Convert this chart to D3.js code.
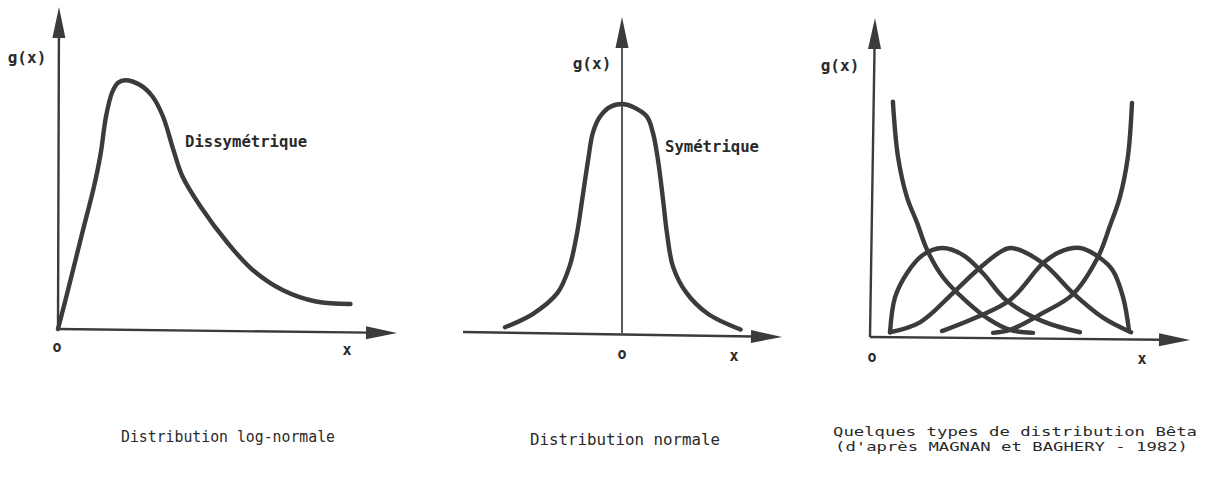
<!DOCTYPE html>
<html>
<head>
<meta charset="utf-8">
<script src="https://cdn.jsdelivr.net/npm/d3@7"></script>
<style>
  html, body { margin: 0; padding: 0; background: #fff; }
  svg { display: block; }
  text { font-family: "DejaVu Sans Mono", "Liberation Mono", monospace; fill: #2a2a2a; }
</style>
</head>
<body>
<svg id="fig" width="1205" height="481"></svg>
<script>
// ---- Data ---------------------------------------------------------------

// Log-normal (skewed) density, x in [0, 10], g in [0, 10]
const logNormalX = [0, 0.3, 0.8, 1.2, 1.42, 1.6, 1.8, 2.0, 2.25, 2.75, 3.15, 3.5, 3.85, 4.15, 4.75, 5.65, 6.5, 7.5, 8.6, 9.75];
const logNormalG = [0, 1.4, 3.8, 5.7, 7.0, 8.5, 9.45, 9.85, 9.95, 9.75, 9.3, 8.5, 7.15, 6.1, 4.9, 3.45, 2.35, 1.55, 1.1, 1.0];

// Normal (symmetric) density, x in [-4, 4], g in [0, 10]
const normalX = [-3.9, -2.95, -2.15, -1.75, -1.5, -1.33, -1.13, -0.97, -0.73, -0.4, 0, 0.37, 0.83, 1.03, 1.2, 1.37, 1.5, 1.7, 2.15, 2.85, 3.95];
const normalG = [0.25, 0.85, 1.75, 2.9, 4.35, 5.8, 7.55, 8.75, 9.45, 9.87, 10, 9.87, 9.45, 8.75, 7.55, 5.8, 4.35, 2.9, 1.75, 0.85, 0.15];

// Beta densities on [0, 1], g in [0, 4]
const betaLeftX  = [0, 0.021, 0.07, 0.136, 0.215, 0.302, 0.384, 0.48, 0.63, 0.785];
const betaLeftG  = [0.03, 0.63, 1.04, 1.35, 1.47, 1.35, 1.04, 0.58, 0.22, 0.03];
const betaMidX   = [0, 0.124, 0.26, 0.36, 0.455, 0.5, 0.632, 0.756, 0.88, 0.996];
const betaMidG   = [0.03, 0.2, 0.7, 1.09, 1.4, 1.47, 1.21, 0.7, 0.28, 0.03];
const betaRightX = [0.215, 0.36, 0.496, 0.632, 0.70, 0.785, 0.868, 0.92, 0.963, 0.988];
const betaRightG = [0.05, 0.29, 0.58, 1.21, 1.40, 1.47, 1.30, 1.09, 0.63, 0.05];
const betaDecX   = [0.012, 0.033, 0.07, 0.112, 0.153, 0.219, 0.318, 0.413, 0.496, 0.591];
const betaDecG   = [3.97, 3.03, 2.34, 1.9, 1.44, 0.97, 0.55, 0.24, 0.07, 0.02];
const betaIncX   = [0.426, 0.496, 0.632, 0.756, 0.86, 0.909, 0.95, 0.983, 1.0];
const betaIncG   = [0.02, 0.07, 0.36, 0.68, 1.32, 1.85, 2.34, 3.03, 3.95];

// Text
const axisNames   = ["g(x)", "o", "x"];
const curveNotes  = ["Dissymétrique", "Symétrique"];
const captions    = ["Distribution log-normale", "Distribution normale",
                     "Quelques types de distribution Bêta", "(d'après MAGNAN et BAGHERY - 1982)"];

// ---- Layout -------------------------------------------------------------

const ink = "#3b3b3b";
const svg = d3.select("#fig");

const panels = [
  {
    xDomain: [0, 10], xRange: [58, 358],
    yDomain: [0, 10], yRange: [329, 79],
    yAxis: [[58, 329], [59, 7]], xAxis: [[58, 329], [397, 333]], yAxisWidth: 2.4,
    series: [[logNormalX, logNormalG]],
    gLabel: [27, 63], oLabel: [57, 352], xLabel: [347, 355],
    note: { text: curveNotes[0], x: 185, y: 147 }
  },
  {
    xDomain: [-4, 4], xRange: [502, 742],
    yDomain: [0, 10], yRange: [333, 104],
    yAxis: [[622, 333], [622, 17]], xAxis: [[463, 332], [782, 337]], yAxisWidth: 1.7,
    series: [[normalX, normalG]],
    gLabel: [592, 69], oLabel: [622, 359], xLabel: [734, 361],
    note: { text: curveNotes[1], x: 665, y: 152 }
  },
  {
    xDomain: [0, 1], xRange: [890, 1132],
    yDomain: [0, 4], yRange: [334, 100],
    yAxis: [[870, 337], [875, 18]], xAxis: [[870, 337], [1190, 340]], yAxisWidth: 2.4,
    series: [[betaLeftX, betaLeftG], [betaMidX, betaMidG], [betaRightX, betaRightG],
             [betaDecX, betaDecG], [betaIncX, betaIncG]],
    gLabel: [840, 71], oLabel: [872, 362], xLabel: [1142, 364],
    note: null
  }
];

// Axis line ending in a filled arrowhead
function arrowAxis(g, from, to, width) {
  const dx = to[0] - from[0], dy = to[1] - from[1];
  const len = Math.hypot(dx, dy), ux = dx / len, uy = dy / len;
  const headLen = 31, headHalf = 6.5;
  const bx = to[0] - ux * headLen, by = to[1] - uy * headLen;
  g.append("line")
    .attr("x1", from[0]).attr("y1", from[1])
    .attr("x2", bx + ux * 2).attr("y2", by + uy * 2)
    .attr("stroke", ink).attr("stroke-width", width);
  g.append("path")
    .attr("d", `M${to[0]},${to[1]}L${bx - uy * headHalf},${by + ux * headHalf}L${bx + uy * headHalf},${by - ux * headHalf}Z`)
    .attr("fill", ink);
}

panels.forEach(p => {
  const g = svg.append("g");
  const x = d3.scaleLinear().domain(p.xDomain).range(p.xRange);
  const y = d3.scaleLinear().domain(p.yDomain).range(p.yRange);

  arrowAxis(g, p.yAxis[0], p.yAxis[1], p.yAxisWidth);
  arrowAxis(g, p.xAxis[0], p.xAxis[1], 2.4);

  const line = d3.line()
    .x(d => x(d[0]))
    .y(d => y(d[1]))
    .curve(d3.curveCatmullRom.alpha(0.5));

  p.series.forEach(([xs, gs]) => {
    g.append("path")
      .datum(xs.map((v, i) => [v, gs[i]]))
      .attr("d", line)
      .attr("fill", "none")
      .attr("stroke", ink)
      .attr("stroke-width", 4.4)
      .attr("stroke-linecap", "round")
      .attr("stroke-linejoin", "round");
  });

  g.append("text").attr("x", p.gLabel[0]).attr("y", p.gLabel[1])
    .attr("text-anchor", "middle").attr("font-size", 16).attr("font-weight", "bold").text(axisNames[0]);
  g.append("text").attr("x", p.oLabel[0]).attr("y", p.oLabel[1])
    .attr("text-anchor", "middle").attr("font-size", 15).attr("font-weight", "bold").text(axisNames[1]);
  g.append("text").attr("x", p.xLabel[0]).attr("y", p.xLabel[1])
    .attr("text-anchor", "middle").attr("font-size", 15).attr("font-weight", "bold").text(axisNames[2]);

  if (p.note) {
    g.append("text").attr("x", p.note.x).attr("y", p.note.y)
      .attr("font-size", 16).attr("font-weight", "bold")
      .attr("textLength", p.note.text.length * 9.4).attr("lengthAdjust", "spacingAndGlyphs")
      .text(p.note.text);
  }
});

// Captions under each panel
const captionSpecs = [
  { text: captions[0], x: 121, y: 442, w: 214, size: 15 },
  { text: captions[1], x: 530, y: 445, w: 190, size: 15 },
  { text: captions[2], x: 833, y: 436, w: 364, size: 12.5 },
  { text: captions[3], x: 835, y: 451, w: 353, size: 12.5 }
];
svg.append("g").selectAll("text")
  .data(captionSpecs)
  .join("text")
  .attr("x", d => d.x).attr("y", d => d.y)
  .attr("font-size", d => d.size)
  .attr("textLength", d => d.w)
  .attr("lengthAdjust", "spacingAndGlyphs")
  .text(d => d.text);
</script>
</body>
</html>
